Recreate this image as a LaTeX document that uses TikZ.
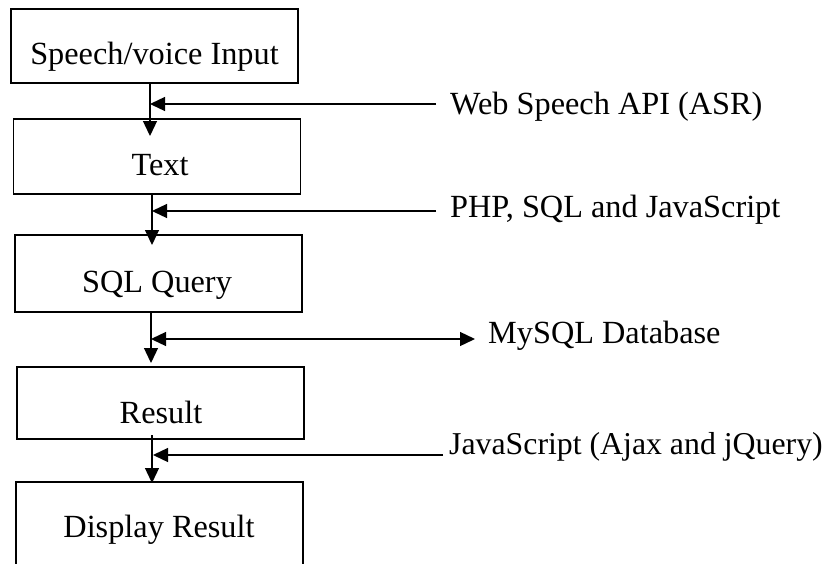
\documentclass[tikz,border=0pt]{standalone}
\usepackage{fontspec}
\setmainfont{Liberation Serif}
\usetikzlibrary{arrows.meta}
\begin{document}
\begin{tikzpicture}[x=1pt,y=-1pt,
  box/.style={draw,line width=1.2pt,inner sep=0pt,minimum width=287pt},
  lbl/.style={inner sep=0pt,anchor=base,font=\fontsize{32.3}{37}\selectfont},
  side/.style={inner sep=0pt,anchor=base west,font=\fontsize{32.3}{37}\selectfont},
  conn/.style={line width=1.3pt,-{Triangle[length=15pt,width=14pt]}},
  dconn/.style={line width=1.3pt,{Triangle[length=15pt,width=14pt]}-{Triangle[length=15pt,width=14pt]}}]
\useasboundingbox (0,0) rectangle (828,563);
\clip (0,0) rectangle (828,563);
% boxes
\node[box,minimum height=74pt] (b1) at (154.5,46) {};
\node[box,minimum height=75pt] (b2) at (157,156.5) {};
\node[box,minimum height=77pt] (b3) at (158.5,273.5) {};
\node[box,minimum height=72pt] (b4) at (160.5,403) {};
\node[box,minimum height=140pt] (b5) at (159.5,552) {};
% box texts
\node[lbl] (t1) at (154.5,64) {Speech/voice Input};
\node[lbl] (t2) at (160,175) {Text};
\node[lbl] (t3) at (157,292) {SQL Query};
\node[lbl] (t4) at (161,423) {Result};
\node[lbl] (t5) at (159,537) {Display Result};
% side texts
\node[side] (s1) at (450,114) {Web Speech API (ASR)};
\node[side] (s2) at (450,217) {PHP, SQL and JavaScript};
\node[side] (s3) at (488,343) {MySQL Database};
\node[side,font=\fontsize{31.8}{37}\selectfont] (s4) at (449,454) {JavaScript (Ajax and jQuery)};
% coordinates
\coordinate (v1a) at (150,84);  \coordinate (v1b) at (150,136);
\coordinate (v2a) at (152,195); \coordinate (v2b) at (152,245);
\coordinate (v3a) at (151,313); \coordinate (v3b) at (151,363);
\coordinate (v4a) at (152,435); \coordinate (v4b) at (152,483);
\coordinate (h1a) at (436,104); \coordinate (h1b) at (150,104);
\coordinate (h2a) at (436,211); \coordinate (h2b) at (152,211);
\coordinate (h3a) at (151,339); \coordinate (h3b) at (475,339);
\coordinate (h4a) at (443,455); \coordinate (h4b) at (153,455);
% connectors
\draw[conn] (v1a) -- (v1b);
\draw[conn] (v2a) -- (v2b);
\draw[conn] (v3a) -- (v3b);
\draw[conn] (v4a) -- (v4b);
\draw[conn] (h1a) -- (h1b);
\draw[conn] (h2a) -- (h2b);
\draw[dconn] (h3a) -- (h3b);
\draw[conn] (h4a) -- (h4b);
\end{tikzpicture}
\end{document}
